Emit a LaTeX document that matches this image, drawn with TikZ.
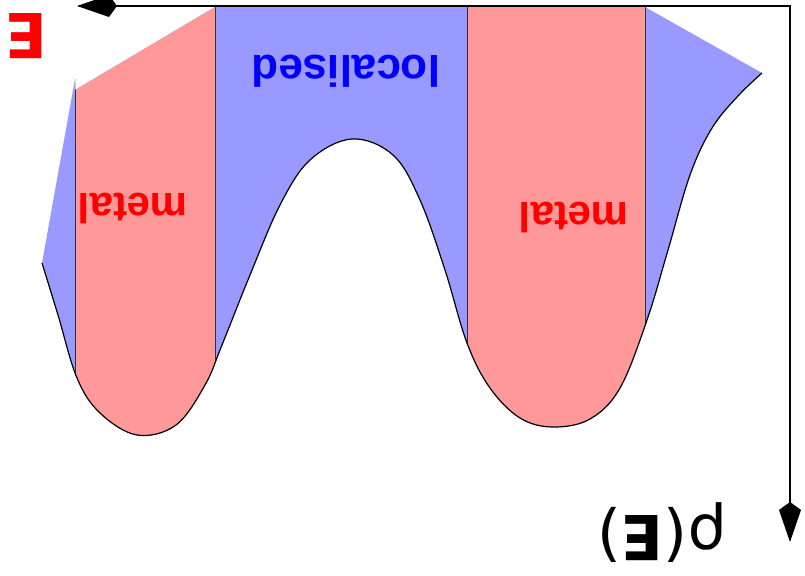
\documentclass[tikz,border=0pt]{standalone}
\usepackage{fontspec}
\setmainfont{Liberation Sans}
\newfontfamily\dejavu{DejaVu Sans}
\usetikzlibrary{arrows.meta, positioning}
\definecolor{locBlue}{HTML}{9999FF}
\definecolor{metalRed}{HTML}{FF9999}
\definecolor{labelBlue}{HTML}{0000FF}
\definecolor{labelRed}{HTML}{FF0000}
\definecolor{edgeGray}{HTML}{333333}

% density of states, traced left to right
\def\dosline{plot[smooth, tension=0.6] coordinates {
  (42,263) (58,315) (77,378) (100,413) (137,435) (176,425) (205,385)
  (222,345) (250,275) (280,205) (310,160) (352,139) (393,155) (420,200)
  (445,270) (467,343) (490,388) (520,418) (553,427) (590,419) (620,388)
  (647,320) (668,250) (690,175) (712,128) (738,96) (762,73)}}

\begin{document}
\begin{tikzpicture}[x=1bp, y=-1bp,
    axis/.style={line width=2.5bp, black,
                 {Kite[length=40bp, width=22bp, inset=8bp]}-{Kite[length=40bp, width=22bp, inset=8bp]}},
    band/.style={draw=edgeGray, line width=1bp},
    lbl/.style={rotate=180, inner sep=0pt, font=\bfseries\fontsize{#1bp}{#1bp}\selectfont},
  ]
    \clip (0,0) rectangle (805,576);

    \fill[locBlue] \dosline -- (645,7) -- (215,7) -- (75,90) -- (75,79) -- cycle;
    \begin{scope}
      \clip \dosline -- (645,7) -- (215,7) -- (75,90) -- (75,79) -- cycle;
      \fill[metalRed] (75,0) rectangle (215,576);
      \fill[metalRed] (467,0) rectangle (645,576);
      \foreach \xb in {75, 215, 467, 645}
        \draw[band] (\xb,0) -- (\xb,576);
    \end{scope}
    \draw[black, line width=1.2bp] \dosline;

    \coordinate (corner) at (790,6);
    \coordinate (eend) at (77,6);
    \coordinate (rhoend) at (790,542);
    \draw[axis] (eend) -- (corner) -- (rhoend);

    \node[rotate=180, inner sep=0pt, text=labelRed,
          font=\dejavu\bfseries\fontsize{62bp}{62bp}\selectfont] (energy) at (26,36) {E};
    \node[rotate=180, inner sep=0pt,
          font=\dejavu\fontsize{62bp}{62bp}\selectfont] (dos) at (662,533) {ρ(\textbf{E})};
    \node[lbl=44, text=labelBlue] (loc) at (346,71) {localised};
    \node[lbl=42, text=labelRed] (metalA) at (133,209) {metal};
    \node[lbl=42, text=labelRed] (metalB) at (574,218) {metal};
  \end{tikzpicture}
\end{document}
